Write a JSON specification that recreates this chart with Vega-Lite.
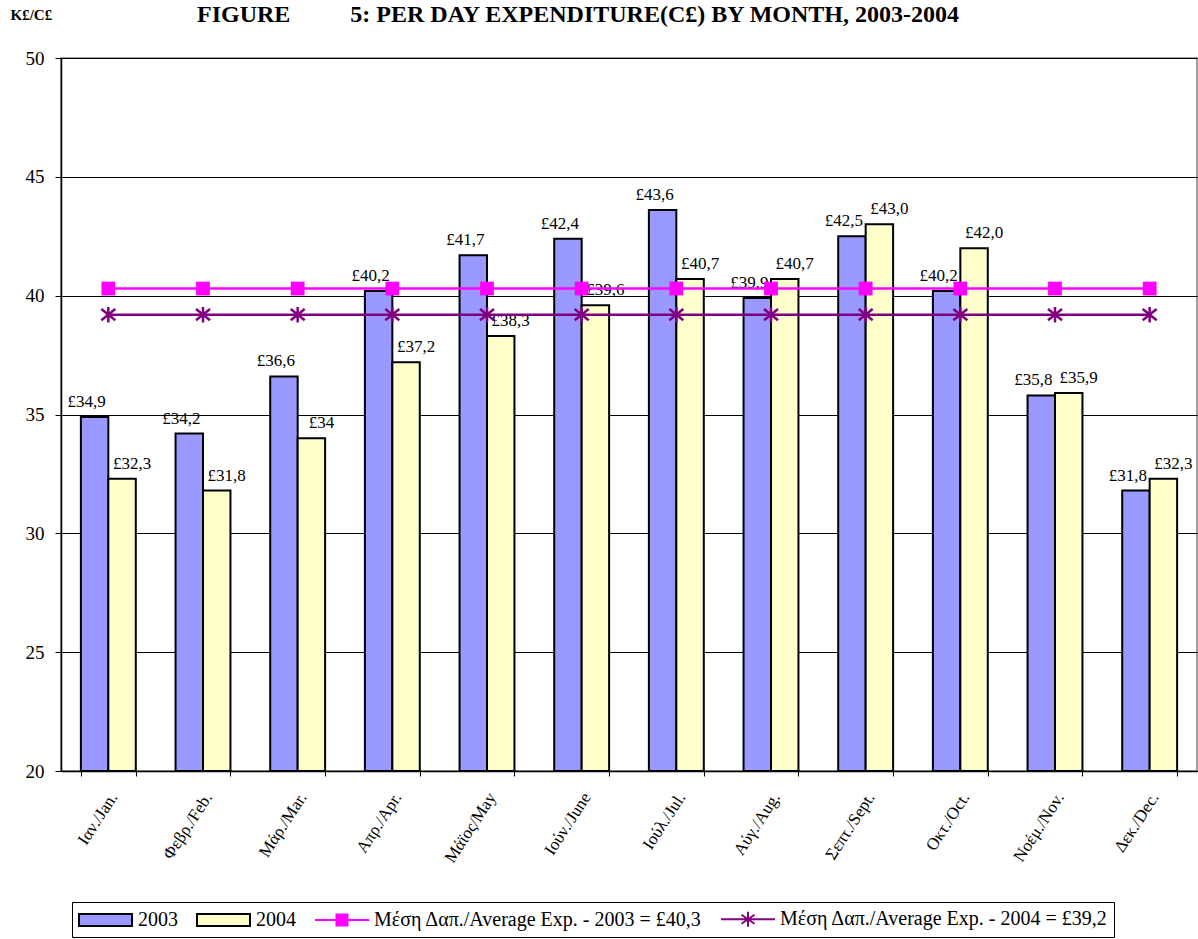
{
  "$schema": "https://vega.github.io/schema/vega-lite/v6.json",
  "autosize": {"type": "none"},
  "width": 1136,
  "height": 713,
  "padding": {"left": 61, "top": 58, "right": 1, "bottom": 168},
  "background": "white",
  "config": {
    "font": "Liberation Serif",
    "view": {"stroke": "#808080", "strokeWidth": 1.5},
    "legend": {
      "title": null,
      "orient": "none",
      "legendX": 11,
      "legendY": 844,
      "direction": "horizontal",
      "symbolSize": 400,
      "symbolOpacity": 1,
      "symbolStrokeWidth": 2,
      "labelFont": "Liberation Serif",
      "labelFontSize": 20,
      "labelColor": "black",
      "labelOffset": 38,
      "labelLimit": 600,
      "columnPadding": 15,
      "padding": 6,
      "strokeColor": "black",
      "fillColor": "white"
    }
  },
  "title": {
    "text": "FIGURE\u00a0\u00a0\u00a0\u00a0\u00a0\u00a0\u00a0\u00a0\u00a0 5: PER DAY EXPENDITURE(C£) BY MONTH, 2003-2004",
    "anchor": "start",
    "frame": "group",
    "dx": 136,
    "offset": -20,
    "font": "Liberation Serif",
    "fontSize": 24,
    "fontWeight": "bold",
    "color": "black"
  },
  "datasets": {
    "bars": [
      {"month": "Ιαν./Jan.", "series": "2003", "value": 34.9, "label": "£34,9"},
      {"month": "Ιαν./Jan.", "series": "2004", "value": 32.3, "label": "£32,3"},
      {"month": "Φεβρ./Feb.", "series": "2003", "value": 34.2, "label": "£34,2"},
      {"month": "Φεβρ./Feb.", "series": "2004", "value": 31.8, "label": "£31,8"},
      {"month": "Μάρ./Mar.", "series": "2003", "value": 36.6, "label": "£36,6"},
      {"month": "Μάρ./Mar.", "series": "2004", "value": 34.0, "label": "£34"},
      {"month": "Απρ./Apr.", "series": "2003", "value": 40.2, "label": "£40,2"},
      {"month": "Απρ./Apr.", "series": "2004", "value": 37.2, "label": "£37,2"},
      {"month": "Μάϊος/May", "series": "2003", "value": 41.7, "label": "£41,7"},
      {"month": "Μάϊος/May", "series": "2004", "value": 38.3, "label": "£38,3"},
      {"month": "Ιούν./June", "series": "2003", "value": 42.4, "label": "£42,4"},
      {"month": "Ιούν./June", "series": "2004", "value": 39.6, "label": "£39,6"},
      {"month": "Ιούλ./Jul.", "series": "2003", "value": 43.6, "label": "£43,6"},
      {"month": "Ιούλ./Jul.", "series": "2004", "value": 40.7, "label": "£40,7"},
      {"month": "Αύγ./Aug.", "series": "2003", "value": 39.9, "label": "£39,9"},
      {"month": "Αύγ./Aug.", "series": "2004", "value": 40.7, "label": "£40,7"},
      {"month": "Σεπτ./Sept.", "series": "2003", "value": 42.5, "label": "£42,5"},
      {"month": "Σεπτ./Sept.", "series": "2004", "value": 43.0, "label": "£43,0"},
      {"month": "Οκτ./Oct.", "series": "2003", "value": 40.2, "label": "£40,2"},
      {"month": "Οκτ./Oct.", "series": "2004", "value": 42.0, "label": "£42,0"},
      {"month": "Νοέμ./Nov.", "series": "2003", "value": 35.8, "label": "£35,8"},
      {"month": "Νοέμ./Nov.", "series": "2004", "value": 35.9, "label": "£35,9"},
      {"month": "Δεκ./Dec.", "series": "2003", "value": 31.8, "label": "£31,8"},
      {"month": "Δεκ./Dec.", "series": "2004", "value": 32.3, "label": "£32,3"}
    ],
    "avg": [
      {"month": "Ιαν./Jan.", "series": "Μέση Δαπ./Average Exp. - 2003 = £40,3", "value": 40.3},
      {"month": "Φεβρ./Feb.", "series": "Μέση Δαπ./Average Exp. - 2003 = £40,3", "value": 40.3},
      {"month": "Μάρ./Mar.", "series": "Μέση Δαπ./Average Exp. - 2003 = £40,3", "value": 40.3},
      {"month": "Απρ./Apr.", "series": "Μέση Δαπ./Average Exp. - 2003 = £40,3", "value": 40.3},
      {"month": "Μάϊος/May", "series": "Μέση Δαπ./Average Exp. - 2003 = £40,3", "value": 40.3},
      {"month": "Ιούν./June", "series": "Μέση Δαπ./Average Exp. - 2003 = £40,3", "value": 40.3},
      {"month": "Ιούλ./Jul.", "series": "Μέση Δαπ./Average Exp. - 2003 = £40,3", "value": 40.3},
      {"month": "Αύγ./Aug.", "series": "Μέση Δαπ./Average Exp. - 2003 = £40,3", "value": 40.3},
      {"month": "Σεπτ./Sept.", "series": "Μέση Δαπ./Average Exp. - 2003 = £40,3", "value": 40.3},
      {"month": "Οκτ./Oct.", "series": "Μέση Δαπ./Average Exp. - 2003 = £40,3", "value": 40.3},
      {"month": "Νοέμ./Nov.", "series": "Μέση Δαπ./Average Exp. - 2003 = £40,3", "value": 40.3},
      {"month": "Δεκ./Dec.", "series": "Μέση Δαπ./Average Exp. - 2003 = £40,3", "value": 40.3},
      {"month": "Ιαν./Jan.", "series": "Μέση Δαπ./Average Exp. - 2004 = £39,2", "value": 39.2},
      {"month": "Φεβρ./Feb.", "series": "Μέση Δαπ./Average Exp. - 2004 = £39,2", "value": 39.2},
      {"month": "Μάρ./Mar.", "series": "Μέση Δαπ./Average Exp. - 2004 = £39,2", "value": 39.2},
      {"month": "Απρ./Apr.", "series": "Μέση Δαπ./Average Exp. - 2004 = £39,2", "value": 39.2},
      {"month": "Μάϊος/May", "series": "Μέση Δαπ./Average Exp. - 2004 = £39,2", "value": 39.2},
      {"month": "Ιούν./June", "series": "Μέση Δαπ./Average Exp. - 2004 = £39,2", "value": 39.2},
      {"month": "Ιούλ./Jul.", "series": "Μέση Δαπ./Average Exp. - 2004 = £39,2", "value": 39.2},
      {"month": "Αύγ./Aug.", "series": "Μέση Δαπ./Average Exp. - 2004 = £39,2", "value": 39.2},
      {"month": "Σεπτ./Sept.", "series": "Μέση Δαπ./Average Exp. - 2004 = £39,2", "value": 39.2},
      {"month": "Οκτ./Oct.", "series": "Μέση Δαπ./Average Exp. - 2004 = £39,2", "value": 39.2},
      {"month": "Νοέμ./Nov.", "series": "Μέση Δαπ./Average Exp. - 2004 = £39,2", "value": 39.2},
      {"month": "Δεκ./Dec.", "series": "Μέση Δαπ./Average Exp. - 2004 = £39,2", "value": 39.2}
    ]
  },
  "encoding": {
    "x": {
      "field": "month",
      "type": "nominal",
      "sort": ["Ιαν./Jan.", "Φεβρ./Feb.", "Μάρ./Mar.", "Απρ./Apr.", "Μάϊος/May", "Ιούν./June", "Ιούλ./Jul.", "Αύγ./Aug.", "Σεπτ./Sept.", "Οκτ./Oct.", "Νοέμ./Nov.", "Δεκ./Dec."],
      "scale": {"paddingInner": 0.42, "paddingOuter": 0.21},
      "axis": {
        "title": null,
        "labelAngle": -57,
        "labelAlign": "right",
        "labelBaseline": "middle",
        "labelFont": "Liberation Serif",
        "labelFontSize": 17,
        "labelColor": "black",
        "labelPadding": 18,
        "labelOffset": 5,
        "labelOverlap": false,
        "tickBand": "extent",
        "tickSize": 5,
        "tickColor": "black",
        "domainColor": "black",
        "domainWidth": 1.5,
        "grid": false
      }
    },
    "y": {
      "field": "value",
      "type": "quantitative",
      "scale": {"domain": [20, 50], "zero": false, "nice": false},
      "axis": {
        "values": [20, 25, 30, 35, 40, 45, 50],
        "grid": true,
        "gridColor": "black",
        "gridWidth": 1,
        "domainColor": "black",
        "domainWidth": 1.5,
        "tickColor": "black",
        "tickSize": 6,
        "labelFont": "Liberation Serif",
        "labelFontSize": 19,
        "labelColor": "black",
        "labelPadding": 11,
        "title": "K£/C£",
        "titleAngle": 0,
        "titleX": -51,
        "titleY": -44,
        "titleAlign": "left",
        "titleBaseline": "middle",
        "titleFont": "Liberation Serif",
        "titleFontSize": 15,
        "titleFontWeight": "bold",
        "titleColor": "black"
      }
    }
  },
  "layer": [
    {
      "data": {"name": "bars"},
      "mark": {"type": "bar", "stroke": "black", "strokeWidth": 2, "opacity": 1},
      "encoding": {
        "xOffset": {"field": "series", "type": "nominal", "scale": {"paddingInner": 0, "paddingOuter": 0}},
        "y2": {"datum": 20},
        "fill": {
          "field": "series",
          "type": "nominal",
          "scale": {
            "domain": ["2003", "2004", "Μέση Δαπ./Average Exp. - 2003 = £40,3", "Μέση Δαπ./Average Exp. - 2004 = £39,2"],
            "range": ["#9999FF", "#FFFFCC", "#FF00FF", "transparent"]
          }
        }
      }
    },
    {
      "data": {"name": "bars"},
      "transform": [{"filter": "datum.series == '2003'"}],
      "mark": {"type": "text", "dx": -8, "dy": -10, "baseline": "alphabetic", "align": "center", "font": "Liberation Serif", "fontSize": 17, "color": "black"},
      "encoding": {
        "xOffset": {"field": "series", "type": "nominal"},
        "text": {"field": "label", "type": "nominal"}
      }
    },
    {
      "data": {"name": "bars"},
      "transform": [{"filter": "datum.series == '2004'"}],
      "mark": {"type": "text", "dx": 10, "dy": -10, "baseline": "alphabetic", "align": "center", "font": "Liberation Serif", "fontSize": 17, "color": "black"},
      "encoding": {
        "xOffset": {"field": "series", "type": "nominal"},
        "text": {"field": "label", "type": "nominal"}
      }
    },
    {
      "data": {"name": "avg"},
      "mark": {"type": "line", "strokeWidth": 2.5},
      "encoding": {
        "stroke": {
          "field": "series",
          "type": "nominal",
          "scale": {
            "domain": ["2003", "2004", "Μέση Δαπ./Average Exp. - 2003 = £40,3", "Μέση Δαπ./Average Exp. - 2004 = £39,2"],
            "range": ["black", "black", "#FF00FF", "#800080"]
          }
        }
      }
    },
    {
      "data": {"name": "avg"},
      "transform": [{"filter": "indexof(datum.series, '2003') > 0"}],
      "mark": {"type": "point", "shape": "square", "filled": true, "size": 190, "color": "#FF00FF", "opacity": 1},
      "encoding": {}
    },
    {
      "data": {"name": "avg"},
      "transform": [{"filter": "indexof(datum.series, '2004') > 0"}],
      "mark": {"type": "point", "shape": "M-1,-0.8L1,0.8M-1,0.8L1,-0.8M0,-1.1V1.1", "filled": false, "size": 196, "stroke": "#800080", "strokeWidth": 2.5, "opacity": 1},
      "encoding": {}
    },
    {
      "data": {"name": "avg"},
      "mark": {"type": "point", "filled": true, "opacity": 0, "strokeWidth": 2, "size": 400},
      "encoding": {
        "fill": {"field": "series", "type": "nominal"},
        "stroke": {"field": "series", "type": "nominal"},
        "shape": {
          "field": "series",
          "type": "nominal",
          "scale": {
            "domain": ["2003", "2004", "Μέση Δαπ./Average Exp. - 2003 = £40,3", "Μέση Δαπ./Average Exp. - 2004 = £39,2"],
            "range": ["M-1,-0.6H4.3V0.6H-1Z", "M-1,-0.6H4.3V0.6H-1Z", "M-1,0H4.4M1.15,-0.55H2.25V0.55H1.15Z", "M-1,0H4.4M1.7,-0.75V0.75M1.05,-0.45L2.35,0.45M1.05,0.45L2.35,-0.45"]
          }
        }
      }
    }
  ]
}
